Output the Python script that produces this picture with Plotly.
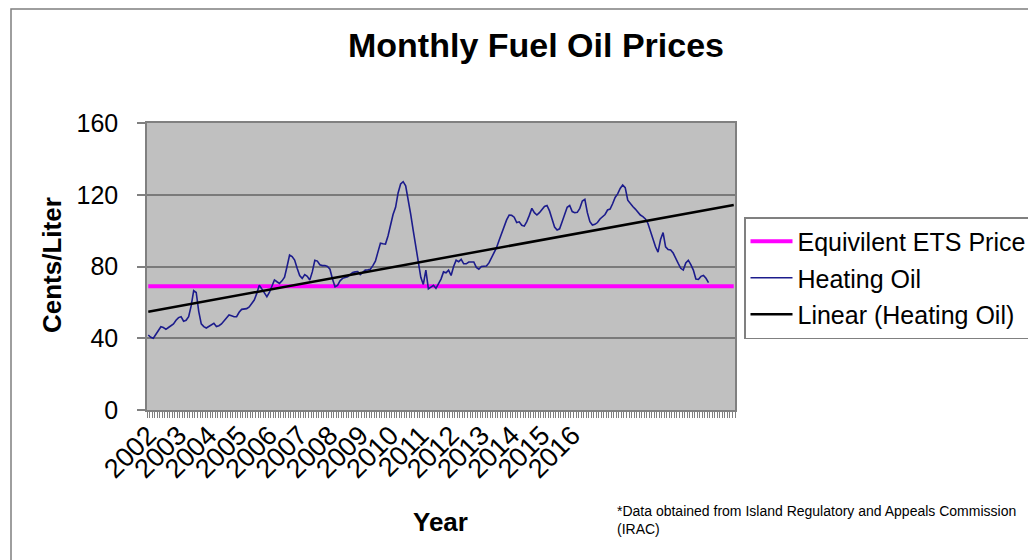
import plotly.graph_objects as go

# ---- data ----
years = [str(y) for y in range(2002, 2017)]
n_categories = 233  # monthly category slots on the axis (last ones blank)

heating_oil = [
    41.8, 40.5, 40.0, 42.0, 44.5, 46.4, 46.0, 45.0, 46.0, 47.2,
    48.0, 50.0, 51.5, 52.0, 49.5, 50.0, 52.0, 58.0, 66.5, 65.5,
    55.0, 48.0, 46.5, 45.7, 46.5, 47.5, 48.3, 46.5, 47.0, 48.0,
    49.5, 51.5, 53.0, 52.5, 52.0, 52.0, 54.5, 56.1, 56.5, 56.5,
    57.5, 59.5, 61.3, 65.0, 69.5, 67.5, 65.0, 63.2, 65.5, 69.5,
    72.5, 71.5, 70.6, 72.0, 74.0, 80.0, 86.4, 85.5, 83.6, 79.0,
    75.0, 73.4, 75.5, 74.5, 72.5, 77.0, 83.5, 83.0, 81.0, 80.5,
    80.5, 80.0, 78.5, 73.0, 68.7, 69.5, 72.0, 73.4, 74.0, 74.3,
    75.5, 76.6, 77.0, 77.2, 75.5, 76.5, 78.0, 78.2, 78.5, 80.5,
    83.0, 88.0, 93.0, 92.7, 92.5, 97.0, 103.0, 109.0, 113.0, 121.0,
    126.0, 127.3, 125.0, 118.0, 109.0, 100.0, 92.0, 84.0, 74.0, 70.0,
    78.0, 67.5, 68.5, 69.5, 67.8, 70.5, 73.0, 77.0, 76.5, 78.0,
    75.0, 80.0, 83.5, 82.7, 84.0, 81.5, 81.5, 82.5, 82.7, 82.5,
    79.5, 78.5, 80.0, 80.3, 80.3, 82.0, 85.0, 88.0, 90.5, 94.5,
    98.5, 102.0, 106.0, 108.7, 108.5, 107.5, 104.5, 104.9, 103.0, 102.5,
    105.0, 108.5, 112.4, 110.0, 108.7, 110.0, 111.5, 113.5, 114.0, 111.0,
    106.5, 102.0, 100.3, 101.0, 105.0, 109.6, 113.0, 114.0, 110.6, 110.0,
    110.2, 112.4, 116.5, 117.4, 110.0, 105.0, 103.1, 103.5, 104.5, 106.5,
    108.0, 109.0, 111.5, 112.0, 115.0, 118.5, 120.5, 123.5, 125.4, 124.0,
    117.0, 115.0, 113.4, 112.0, 110.0, 108.7, 107.8, 106.5, 104.0, 99.5,
    96.0, 91.0, 88.0, 95.0, 98.9, 91.0, 89.5, 89.2, 87.5, 85.0,
    81.7, 79.0, 78.0, 82.0, 83.5, 81.0, 78.0, 73.0, 72.8, 74.5,
    75.0, 73.4, 71.0,
]
ets_price = 69.0
trend_start = 54.8
trend_end = 114.3

# ---- figure ----
OFF = 8  # page body margin offset
W, H = 1036 - OFF, 560 - OFF
# plot-area edges in screenshot pixels
SL, SR, ST, SB = 147, 735, 123, 410
L, R, T, B = SL - OFF, SR - OFF, ST - OFF, SB - OFF
FONT = "Liberation Sans, Arial, sans-serif"


def px_x(p):
    return (p - SL) / (SR - SL)


def px_y(p):
    return (SB - p) / (SB - ST)


cats = list(range(n_categories))
oil_x = cats[:len(heating_oil)]

fig = go.Figure()
fig.add_trace(go.Scatter(
    x=cats, y=[ets_price] * n_categories, mode="lines",
    name="Equivilent ETS Price", legendgroup="a",
    line=dict(color="#FF00FF", width=4),
))
fig.add_trace(go.Scatter(
    x=oil_x, y=heating_oil, mode="lines",
    name="Heating Oil", legendgroup="b",
    line=dict(color="#1C1C8C", width=1.6),
))
fig.add_trace(go.Scatter(
    x=[cats[0], cats[-1]], y=[trend_start, trend_end], mode="lines",
    name="Linear (Heating Oil)", legendgroup="c",
    line=dict(color="#000000", width=2.5),
))

tick_idx = [12 * k for k in range(len(years))]

fig.update_layout(
    width=W, height=H,
    margin=dict(l=L, r=W - R, t=T, b=H - B, pad=0, autoexpand=False),
    paper_bgcolor="white",
    plot_bgcolor="#C0C0C0",
    font=dict(family=FONT, color="black", size=24),
    showlegend=True,
    legend=dict(
        x=px_x(744), y=px_y(217), xanchor="left", yanchor="top",
        bordercolor="#808080", borderwidth=1.5, bgcolor="white",
        font=dict(family=FONT, size=25, color="black"),
        traceorder="grouped", tracegroupgap=1, itemwidth=42,
    ),
    xaxis=dict(
        range=[-0.5, n_categories - 0.5], automargin=False,
        tickmode="array", tickvals=tick_idx, ticktext=years,
        tickangle=-45, ticks="", showgrid=False, zeroline=False,
        ticklabelstandoff=-3,
        tickfont=dict(family=FONT, size=27, color="black"),
        showline=True, linecolor="#808080", linewidth=1.5, mirror=True,
        minor=dict(tickmode="linear", tick0=-0.5, dtick=1, ticks="outside",
                   ticklen=6, tickwidth=1, tickcolor="#808080", showgrid=False),
    ),
    yaxis=dict(
        range=[0, 160], tickmode="array", tickvals=[0, 40, 80, 120, 160],
        automargin=False,
        ticks="outside", ticklen=8, tickcolor="#808080", tickwidth=1.5,
        ticklabelstandoff=14,
        tickfont=dict(family=FONT, size=25, color="black"),
        showgrid=True, gridcolor="#7A7A7A", gridwidth=1.5,
        zeroline=False,
        showline=True, linecolor="#808080", linewidth=1.5, mirror=True,
    ),
    annotations=[
        dict(text="<b>Monthly Fuel Oil Prices</b>", x=px_x(536), y=px_y(45),
             xref="paper", yref="paper", showarrow=False, xanchor="center",
             yanchor="middle", font=dict(family=FONT, size=34, color="black")),
        dict(text="<b>Cents/Liter</b>", x=px_x(52), y=px_y(265),
             xref="paper", yref="paper", showarrow=False, textangle=-90,
             xanchor="center", yanchor="middle",
             font=dict(family=FONT, size=26, color="black")),
        dict(text="<b>Year</b>", x=px_x(440), y=px_y(522),
             xref="paper", yref="paper", showarrow=False,
             xanchor="center", yanchor="middle",
             font=dict(family=FONT, size=26, color="black")),
        dict(text="*Data obtained from Island Regulatory and Appeals Commission<br>(IRAC)",
             x=px_x(615), y=px_y(501), xref="paper", yref="paper",
             showarrow=False, xanchor="left", yanchor="top", align="left",
             font=dict(family=FONT, size=14, color="black")),
    ],
    shapes=[
        dict(type="rect", xref="paper", yref="paper",
             x0=px_x(11), x1=px_x(1045), y0=px_y(575), y1=px_y(9),
             line=dict(color="#7F7F7F", width=1.5), fillcolor="rgba(0,0,0,0)",
             layer="below"),
    ],
)

fig.write_html("out.html")
